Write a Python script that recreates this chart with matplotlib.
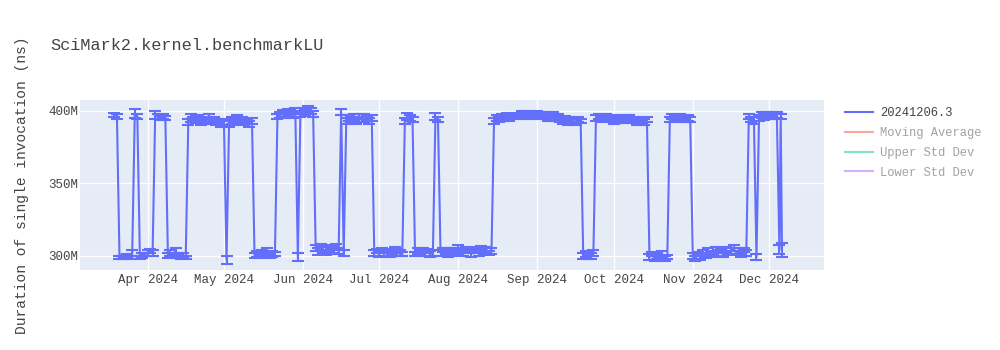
import matplotlib
matplotlib.use("Agg")
import matplotlib.pyplot as plt
import matplotlib.dates as mdates
from matplotlib.lines import Line2D
import pandas as pd

# daily means (in millions of ns), one list per month, starting at the first day listed
mar_vals = [397, 396, 299, 298.5, 299, 300, 299, 302, 398, 396, 299, 300, 301]  # from Mar 19
mar_err = [1.5, 2, 1, 1, 1.5, 1, 1, 2, 3, 1.5, 1, 1.5, 1]
apr_vals = [302, 303, 302, 397, 396, 395, 396, 395, 300, 302, 301, 303, 300, 299, 300,
            299, 392, 395, 394, 393, 395, 392, 394, 393, 395, 393, 394, 392, 393, 391]
apr_err = [2, 1.5, 2, 3, 2, 1.5, 2, 1.5, 1.5, 2, 1, 2, 1.5, 1, 1.5,
           1, 2, 2.5, 2, 1.5, 2, 2, 1.5, 2, 2.5, 1.5, 2, 2, 1.5, 2]
may_vals = [392, 297, 391, 393, 392, 395, 393, 394, 392, 393, 391, 393, 300, 301, 300, 302,
            301, 303, 300, 301, 301, 396, 397, 398, 397, 399, 398, 397, 400, 299, 398]
may_err = [2, 2.5, 2, 2.5, 2, 2, 1.5, 2, 2, 1.5, 2, 2, 1.5, 2, 1.5, 2,
           1.5, 2, 1.5, 2, 1.5, 2, 2, 2.5, 2, 2, 2.5, 2, 2, 2.5, 2]
jun_vals = [400, 399, 401, 400, 398, 305, 303, 306, 304, 302, 305, 303, 304, 306, 303,
            399, 302, 393, 395, 394, 396, 393, 395, 394, 396, 395, 393, 395, 302, 303]
jun_err = [2, 2.5, 2, 2, 2, 2, 2.5, 2, 2, 1.5, 2, 2, 2.5, 2, 2,
           2, 2, 2, 2, 1.5, 2, 2, 2.5, 2, 2, 1.5, 2, 2, 2, 1.5]
jul_vals = [301, 304, 302, 303, 301, 302, 304, 303, 302, 301, 393, 396, 395, 394, 301, 303,
            302, 304, 302, 303, 301, 302, 396, 394, 302, 304, 303, 301, 304, 302, 303]
jul_err = [2, 1.5, 2, 1.5, 2, 1.5, 2, 1.5, 2, 1.5, 2, 2.5, 2, 2, 1.5, 2,
           2, 1.5, 2, 1.5, 2, 2, 2.5, 2, 2, 1.5, 2, 2, 1.5, 2, 2]
aug_vals = [305, 303, 302, 304, 303, 301, 303, 304, 302, 305, 303, 304, 302, 303, 393, 395,
            394, 396, 395, 397, 395, 396, 397, 396, 397, 398, 396, 397, 398, 397, 396]
aug_err = [2, 1.5, 2, 2, 1.5, 2, 1.5, 2, 2, 1.5, 2, 2, 1.5, 2, 2, 2,
           1.5, 2, 2, 1.5, 2, 2, 1.5, 2, 1.5, 1.5, 2, 1.5, 1.5, 2, 1.5]
sep_vals = [398, 397, 396, 397, 395, 396, 397, 395, 396, 394, 393, 395, 392, 394, 393,
            392, 394, 393, 300, 301, 299, 300, 302, 395, 396, 394, 395, 396, 394, 395]
sep_err = [1.5, 2, 1.5, 2, 2, 1.5, 2, 2, 1.5, 2, 2, 1.5, 2, 2, 1.5,
           2, 2, 1.5, 2, 2, 1.5, 2, 2, 2, 2, 1.5, 2, 2, 1.5, 2]
oct_vals = [393, 395, 394, 395, 393, 394, 395, 393, 394, 392, 394, 393, 392, 394, 299, 301,
            298, 300, 299, 301, 298, 299, 394, 396, 395, 394, 396, 395, 394, 395, 394]
oct_err = [2, 1.5, 2, 2, 1.5, 2, 2, 1.5, 2, 2, 1.5, 2, 2, 1.5, 2, 1.5,
           2, 2, 1.5, 2, 2, 1.5, 2, 2, 1.5, 2, 2, 1.5, 2, 2, 1.5]
nov_vals = [300, 298, 301, 299, 302, 300, 303, 301, 302, 304, 302, 303, 301, 304, 302,
            303, 305, 302, 303, 301, 304, 302, 396, 394, 393, 299, 395, 397, 396, 397]
nov_err = [2, 2, 1.5, 2, 2, 1.5, 2, 2, 1.5, 2, 2, 1.5, 2, 2, 1.5,
           2, 2, 1.5, 2, 2, 1.5, 2, 2, 2, 2.5, 2, 2, 2, 2.5, 2]
dec_dates = ["2024-12-01", "2024-12-02", "2024-12-03", "2024-12-04", "2024-12-05",
             "2024-12-05 12:00", "2024-12-06"]
dec_vals = [396, 397, 396, 397, 304, 396, 304]
dec_err = [2, 2, 1.5, 2, 3, 2, 5]

months = [("2024-03-19", mar_vals, mar_err), ("2024-04-01", apr_vals, apr_err),
          ("2024-05-01", may_vals, may_err), ("2024-06-01", jun_vals, jun_err),
          ("2024-07-01", jul_vals, jul_err), ("2024-08-01", aug_vals, aug_err),
          ("2024-09-01", sep_vals, sep_err), ("2024-10-01", oct_vals, oct_err),
          ("2024-11-01", nov_vals, nov_err)]

dates, vals, errs = [], [], []
for start, v, e in months:
    dates += list(pd.date_range(start, periods=len(v), freq="D"))
    vals += v
    errs += e
dates += [pd.Timestamp(d) for d in dec_dates]
vals += dec_vals
errs += dec_err

TXT = "#444444"
plt.rcParams["font.family"] = ["Liberation Mono", "DejaVu Sans Mono"]

fig = plt.figure(figsize=(10, 3.5), dpi=100)
ax = fig.add_axes([0.08, 0.2286, 0.744, 0.4857])
ax.set_facecolor("#E5ECF6")
for s in ax.spines.values():
    s.set_visible(False)

ax.errorbar(dates, vals, yerr=errs, color="#636efa", lw=1.5, elinewidth=1.5,
            capsize=4, capthick=1.5, zorder=3)

ax.set_xlim(pd.Timestamp("2024-03-05 12:00"), pd.Timestamp("2024-12-22 12:00"))
ax.set_ylim(290.1, 407.4)
ax.set_yticks([300, 350, 400])
ax.set_yticklabels(["300M", "350M", "400M"])
ax.xaxis.set_major_locator(mdates.MonthLocator(bymonthday=1))
ax.xaxis.set_major_formatter(mdates.DateFormatter("%b %Y"))
ax.grid(True, color="white", lw=1, zorder=0)
ax.set_axisbelow(True)
ax.tick_params(length=0, labelsize=9, colors=TXT)
ax.tick_params(axis="y", pad=1.5)
ax.tick_params(axis="x", pad=3)

ax.set_ylabel("Duration of single invocation (ns)", fontsize=10.5, color=TXT)
ax.yaxis.set_label_coords(-0.068, 0.5)

fig.text(0.05, 0.87, "SciMark2.kernel.benchmarkLU", fontsize=12.2, color=TXT, va="center")

handles = [Line2D([], [], color="#636efa", lw=1.5),
           Line2D([], [], color="#EF553B", lw=1.5, alpha=0.5),
           Line2D([], [], color="#00cc96", lw=1.5, alpha=0.5),
           Line2D([], [], color="#ab63fa", lw=1.5, alpha=0.5)]
labels = ["20241206.3", "Moving Average", "Upper Std Dev", "Lower Std Dev"]
leg = fig.legend(handles, labels, loc="upper left", bbox_to_anchor=(0.84, 0.707),
                 frameon=False, fontsize=8.7, handlelength=2.3, handletextpad=0.6,
                 labelspacing=0.64, borderaxespad=0)
for i, t in enumerate(leg.get_texts()):
    t.set_color(TXT if i == 0 else "#A2A2A2")

fig.savefig("out.png", dpi=100)
